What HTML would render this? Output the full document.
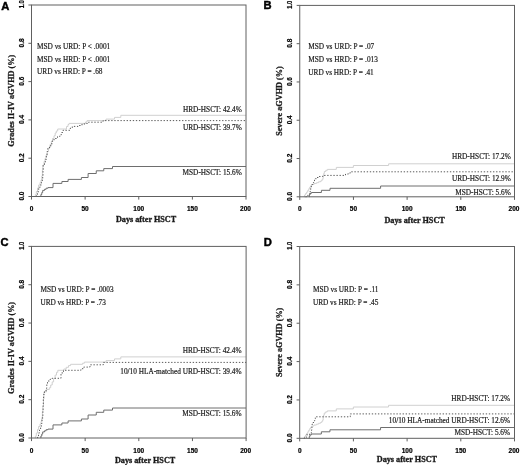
<!DOCTYPE html>
<html><head><meta charset="utf-8"><title>Figure</title>
<style>
html,body{margin:0;padding:0;background:#fff;}
body{width:520px;height:465px;overflow:hidden;}
svg{display:block;will-change:transform;}
text{fill:#1a1a1a;}
.tx{font-family:"Liberation Serif",serif;font-size:7.3px;stroke:#1a1a1a;stroke-width:0.18px;}
.ax{font-family:"Liberation Serif",serif;font-size:8.2px;font-weight:bold;stroke:#1a1a1a;stroke-width:0.3px;}
.tk{fill:#000;font-family:"Liberation Sans",sans-serif;font-size:6.5px;font-weight:bold;stroke:#000;stroke-width:0.2px;}
.lt{font-family:"Liberation Sans",sans-serif;font-size:11.2px;font-weight:bold;fill:#000;stroke:#000;stroke-width:0.45px;}
</style></head><body>
<svg width="520" height="465" viewBox="0 0 520 465">
<rect width="520" height="465" fill="#fff"/>
<path d="M35.00,196.50H35.40V194.60H36.30V191.50H37.50V188.00H38.60V185.00H40.00V182.50H41.00V180.00H41.80V176.00H42.40V170.00H42.90V165.00H44.00V161.50H45.00V158.50H46.10V155.40H47.20V151.50H48.50V148.00H50.00V144.50H51.30V141.50H52.50V138.50H54.00V135.80H55.20V133.00H56.30V131.00H57.70V129.00H66.50V126.50H68.00V124.50H69.00V123.40H85.50V122.00H87.00V120.60H106.00V119.10H114.50V117.40H120.80V115.30H246.00V115.30" fill="none" stroke="#d0d0d0" stroke-width="1"/>
<path d="M36.20,196.50H36.50V194.60H37.50V192.50H38.20V190.50H38.70V187.60H40.00V185.00H41.50V182.30H42.30V178.50H42.70V175.50H43.00V170.00H43.20V165.00H44.50V162.00H45.50V159.50H46.30V155.00H47.00V151.50H47.60V148.70H49.50V146.30H50.75V144.40H51.80V141.20H53.50V139.70H55.00V138.50H57.50V136.50H59.90V134.70H61.50V132.50H63.10V130.30H70.00V128.30H72.30V126.40H78.00V125.50H82.00V124.00H85.00V123.40H88.50V122.20H103.00V120.60H246.00V120.60" fill="none" stroke="#5a5a5a" stroke-width="1" stroke-dasharray="1.35 1.73"/>
<path d="M40.75,196.50H40.90V194.50H41.80V192.50H42.70V190.40H44.50V189.30H46.10V188.20H48.00V187.60H53.00V183.40H61.90V181.50H68.10V179.40H81.40V177.50H88.10V173.50H96.25V170.80H103.75V168.60H112.50V166.50H246.00V166.50" fill="none" stroke="#6e6e6e" stroke-width="1"/>
<rect x="31.5" y="5.0" width="214.5" height="191.5" fill="none" stroke="#606060" stroke-width="1"/>
<path d="M28.4,196.50H31.5 M28.4,158.20H31.5 M28.4,119.90H31.5 M28.4,81.60H31.5 M28.4,43.30H31.5 M28.4,5.00H31.5 M31.50,196.5V199.6 M85.12,196.5V199.6 M138.75,196.5V199.6 M192.38,196.5V199.6 M246.00,196.5V199.6" stroke="#606060" stroke-width="1" fill="none"/>
<text transform="translate(24.10,196.10) rotate(-90)" text-anchor="middle" class="tk">0.0</text>
<text transform="translate(24.10,157.80) rotate(-90)" text-anchor="middle" class="tk">0.2</text>
<text transform="translate(24.10,119.50) rotate(-90)" text-anchor="middle" class="tk">0.4</text>
<text transform="translate(24.10,81.20) rotate(-90)" text-anchor="middle" class="tk">0.6</text>
<text transform="translate(24.10,42.90) rotate(-90)" text-anchor="middle" class="tk">0.8</text>
<text transform="translate(24.10,4.30) rotate(-90)" text-anchor="middle" class="tk" textLength="8.1" lengthAdjust="spacingAndGlyphs">1.0</text>
<text x="31.50" y="210.80" text-anchor="middle" class="tk">0</text>
<text x="85.12" y="210.80" text-anchor="middle" class="tk">50</text>
<text x="138.75" y="210.80" text-anchor="middle" class="tk">100</text>
<text x="192.38" y="210.80" text-anchor="middle" class="tk">150</text>
<text x="245.50" y="210.80" text-anchor="middle" class="tk">200</text>
<text x="146.05" y="222.05" text-anchor="middle" class="ax">Days after HSCT</text>
<text transform="translate(13.80,100.75) rotate(-90)" text-anchor="middle" class="ax">Grades II-IV aGVHD (%)</text>
<text x="1.20" y="9.60" class="lt">A</text>
<text x="37.00" y="48.70" class="tx">MSD vs URD: P &lt; .0001</text>
<text x="37.00" y="61.50" class="tx">MSD vs HRD: P &lt; .0001</text>
<text x="37.00" y="74.10" class="tx">URD vs HRD: P = .68</text>
<text x="241.80" y="111.50" text-anchor="end" class="tx">HRD-HSCT: 42.4%</text>
<text x="241.80" y="130.20" text-anchor="end" class="tx">URD-HSCT: 39.7%</text>
<text x="241.80" y="174.80" text-anchor="end" class="tx">MSD-HSCT: 15.6%</text>
<path d="M303.80,196.80H304.50V195.00H305.60V193.50H306.70V192.00H307.80V190.30H308.80V188.70H309.80V187.00H310.80V185.60H311.80V184.50H314.00V183.50H316.50V182.70H318.50V181.80H320.50V181.00H321.80V179.80H322.80V178.50H323.20V176.00H323.70V173.50H324.30V171.50H325.80V170.30H327.40V169.40H336.30V167.40H353.40V165.50H388.60V163.80H514.50V163.80" fill="none" stroke="#d0d0d0" stroke-width="1"/>
<path d="M305.50,196.80H306.50V195.80H308.00V194.70H309.50V193.60H310.20V191.00H310.70V188.00H311.30V186.00H311.80V184.50H312.70V182.70H313.60V181.00H314.50V179.80H315.30V178.70H317.00V177.50H318.80V176.50H322.80V175.40H345.50V174.00H348.50V173.00H350.50V171.80H514.50V171.80" fill="none" stroke="#5a5a5a" stroke-width="1" stroke-dasharray="1.35 1.73"/>
<path d="M309.00,196.80H309.30V195.00H310.00V193.50H311.30V192.50H321.40V190.30H330.00V188.30H380.60V186.00H514.50V186.00" fill="none" stroke="#6e6e6e" stroke-width="1"/>
<rect x="299.75" y="5.4" width="214.75" height="191.4" fill="none" stroke="#606060" stroke-width="1"/>
<path d="M296.65,196.80H299.75 M296.65,158.52H299.75 M296.65,120.24H299.75 M296.65,81.96H299.75 M296.65,43.68H299.75 M296.65,5.40H299.75 M299.75,196.8V199.9 M353.44,196.8V199.9 M407.12,196.8V199.9 M460.81,196.8V199.9 M514.50,196.8V199.9" stroke="#606060" stroke-width="1" fill="none"/>
<text transform="translate(292.35,196.40) rotate(-90)" text-anchor="middle" class="tk">0.0</text>
<text transform="translate(292.35,158.12) rotate(-90)" text-anchor="middle" class="tk">0.2</text>
<text transform="translate(292.35,119.84) rotate(-90)" text-anchor="middle" class="tk">0.4</text>
<text transform="translate(292.35,81.56) rotate(-90)" text-anchor="middle" class="tk">0.6</text>
<text transform="translate(292.35,43.28) rotate(-90)" text-anchor="middle" class="tk">0.8</text>
<text transform="translate(292.35,4.70) rotate(-90)" text-anchor="middle" class="tk" textLength="8.1" lengthAdjust="spacingAndGlyphs">1.0</text>
<text x="299.75" y="211.20" text-anchor="middle" class="tk">0</text>
<text x="353.44" y="211.20" text-anchor="middle" class="tk">50</text>
<text x="407.12" y="211.20" text-anchor="middle" class="tk">100</text>
<text x="460.81" y="211.20" text-anchor="middle" class="tk">150</text>
<text x="514.00" y="211.20" text-anchor="middle" class="tk">200</text>
<text x="414.62" y="222.75" text-anchor="middle" class="ax">Days after HSCT</text>
<text transform="translate(282.05,101.10) rotate(-90)" text-anchor="middle" class="ax">Severe aGVHD (%)</text>
<text x="263.60" y="9.30" class="lt">B</text>
<text x="308.30" y="48.70" class="tx">MSD vs URD: P = .07</text>
<text x="308.30" y="61.70" class="tx">MSD vs HRD: P = .013</text>
<text x="308.30" y="74.70" class="tx">URD vs HRD: P = .41</text>
<text x="510.80" y="159.40" text-anchor="end" class="tx">HRD-HSCT: 17.2%</text>
<text x="510.80" y="181.00" text-anchor="end" class="tx">URD-HSCT: 12.9%</text>
<text x="510.80" y="194.90" text-anchor="end" class="tx">MSD-HSCT: 5.6%</text>
<path d="M35.00,438.00H35.40V436.10H36.30V433.00H37.50V429.50H38.60V426.50H40.00V424.00H41.00V421.50H41.80V417.50H42.40V411.50H42.90V406.50H43.50V399.00H43.90V391.80H46.50V389.50H49.30V387.70H50.70V385.00H52.20V381.90H53.60V378.50H55.10V375.10H56.50V372.30H57.80V370.30H63.80V369.00H66.20V367.30H68.50V365.60H70.60V364.30H82.60V363.20H84.40V362.10H106.00V360.60H114.50V358.90H120.80V356.90H246.10V356.90" fill="none" stroke="#d0d0d0" stroke-width="1"/>
<path d="M37.30,438.00H37.60V436.00H38.50V433.00H39.50V430.00H40.60V427.40H41.30V423.50H42.00V419.50H42.60V415.80H42.90V410.00H43.10V404.00H43.30V398.40H43.60V394.50H44.50V391.50H46.00V388.30H46.80V384.50H47.50V381.00H50.00V379.30H52.10V378.30H61.00V374.00H62.20V372.00H63.50V370.30H81.00V368.70H83.70V367.10H90.00V364.80H103.30V362.40H246.10V362.40" fill="none" stroke="#5a5a5a" stroke-width="1" stroke-dasharray="1.35 1.73"/>
<path d="M40.75,438.00H40.90V436.00H41.80V434.00H42.70V431.90H44.50V430.80H46.10V429.70H48.00V429.10H53.00V424.90H61.90V423.00H68.10V420.90H81.40V419.00H88.10V415.00H96.25V412.30H103.75V410.10H112.50V408.00H246.00V408.00" fill="none" stroke="#6e6e6e" stroke-width="1"/>
<rect x="31.5" y="246.4" width="214.6" height="191.6" fill="none" stroke="#606060" stroke-width="1"/>
<path d="M28.4,438.00H31.5 M28.4,399.68H31.5 M28.4,361.36H31.5 M28.4,323.04H31.5 M28.4,284.72H31.5 M28.4,246.40H31.5 M31.50,438.0V441.1 M85.15,438.0V441.1 M138.80,438.0V441.1 M192.45,438.0V441.1 M246.10,438.0V441.1" stroke="#606060" stroke-width="1" fill="none"/>
<text transform="translate(24.10,437.60) rotate(-90)" text-anchor="middle" class="tk">0.0</text>
<text transform="translate(24.10,399.28) rotate(-90)" text-anchor="middle" class="tk">0.2</text>
<text transform="translate(24.10,360.96) rotate(-90)" text-anchor="middle" class="tk">0.4</text>
<text transform="translate(24.10,322.64) rotate(-90)" text-anchor="middle" class="tk">0.6</text>
<text transform="translate(24.10,284.32) rotate(-90)" text-anchor="middle" class="tk">0.8</text>
<text transform="translate(24.10,245.70) rotate(-90)" text-anchor="middle" class="tk" textLength="8.1" lengthAdjust="spacingAndGlyphs">1.0</text>
<text x="31.50" y="452.50" text-anchor="middle" class="tk">0</text>
<text x="85.15" y="452.50" text-anchor="middle" class="tk">50</text>
<text x="138.80" y="452.50" text-anchor="middle" class="tk">100</text>
<text x="192.45" y="452.50" text-anchor="middle" class="tk">150</text>
<text x="245.60" y="452.50" text-anchor="middle" class="tk">200</text>
<text x="145.10" y="462.60" text-anchor="middle" class="ax">Days after HSCT</text>
<text transform="translate(13.80,347.90) rotate(-90)" text-anchor="middle" class="ax">Grades II-IV aGVHD (%)</text>
<text x="0.50" y="246.00" class="lt">C</text>
<text x="40.40" y="292.20" class="tx">MSD vs URD: P = .0003</text>
<text x="40.40" y="305.20" class="tx">URD vs HRD: P = .73</text>
<text x="241.50" y="353.10" text-anchor="end" class="tx">HRD-HSCT: 42.4%</text>
<text x="241.50" y="374.40" text-anchor="end" class="tx">10/10 HLA-matched URD-HSCT: 39.4%</text>
<text x="241.50" y="416.20" text-anchor="end" class="tx">MSD-HSCT: 15.6%</text>
<path d="M303.75,438.30H304.45V436.50H305.55V435.00H306.65V433.50H307.75V431.80H308.75V430.20H309.75V428.50H310.75V427.10H311.75V426.00H313.95V425.00H316.45V424.20H318.45V423.30H320.45V422.50H321.75V421.30H322.75V420.00H323.15V417.50H323.65V415.00H324.25V413.00H325.75V411.80H327.35V410.90H336.25V408.90H353.35V407.00H388.55V405.30H514.45V405.30" fill="none" stroke="#d0d0d0" stroke-width="1"/>
<path d="M303.80,438.30H304.50V437.30H306.60V434.80H309.50V434.00H311.30V432.30H311.60V430.00H311.80V427.50H312.10V424.20H313.00V422.50H314.10V420.80H314.70V418.70H315.30V416.80H350.30V413.90H514.50V413.90" fill="none" stroke="#5a5a5a" stroke-width="1" stroke-dasharray="1.35 1.73"/>
<path d="M308.95,438.30H309.25V436.50H309.95V435.00H311.25V434.00H321.35V431.80H329.95V429.80H380.55V427.50H514.45V427.50" fill="none" stroke="#6e6e6e" stroke-width="1"/>
<rect x="299.7" y="246.5" width="214.8" height="191.8" fill="none" stroke="#606060" stroke-width="1"/>
<path d="M296.59999999999997,438.30H299.7 M296.59999999999997,399.94H299.7 M296.59999999999997,361.58H299.7 M296.59999999999997,323.22H299.7 M296.59999999999997,284.86H299.7 M296.59999999999997,246.50H299.7 M299.70,438.3V441.40000000000003 M353.40,438.3V441.40000000000003 M407.10,438.3V441.40000000000003 M460.80,438.3V441.40000000000003 M514.50,438.3V441.40000000000003" stroke="#606060" stroke-width="1" fill="none"/>
<text transform="translate(292.30,437.90) rotate(-90)" text-anchor="middle" class="tk">0.0</text>
<text transform="translate(292.30,399.54) rotate(-90)" text-anchor="middle" class="tk">0.2</text>
<text transform="translate(292.30,361.18) rotate(-90)" text-anchor="middle" class="tk">0.4</text>
<text transform="translate(292.30,322.82) rotate(-90)" text-anchor="middle" class="tk">0.6</text>
<text transform="translate(292.30,284.46) rotate(-90)" text-anchor="middle" class="tk">0.8</text>
<text transform="translate(292.30,245.80) rotate(-90)" text-anchor="middle" class="tk" textLength="8.1" lengthAdjust="spacingAndGlyphs">1.0</text>
<text x="299.70" y="452.90" text-anchor="middle" class="tk">0</text>
<text x="353.40" y="452.90" text-anchor="middle" class="tk">50</text>
<text x="407.10" y="452.90" text-anchor="middle" class="tk">100</text>
<text x="460.80" y="452.90" text-anchor="middle" class="tk">150</text>
<text x="514.00" y="452.90" text-anchor="middle" class="tk">200</text>
<text x="406.90" y="461.95" text-anchor="middle" class="ax">Days after HSCT</text>
<text transform="translate(282.00,342.40) rotate(-90)" text-anchor="middle" class="ax">Severe aGVHD (%)</text>
<text x="263.70" y="245.90" class="lt">D</text>
<text x="312.90" y="291.70" class="tx">MSD vs URD: P = .11</text>
<text x="312.90" y="304.70" class="tx">URD vs HRD: P = .45</text>
<text x="510.10" y="400.50" text-anchor="end" class="tx">HRD-HSCT: 17.2%</text>
<text x="510.10" y="422.60" text-anchor="end" class="tx">10/10 HLA-matched URD-HSCT: 12.6%</text>
<text x="510.10" y="435.00" text-anchor="end" class="tx">MSD-HSCT: 5.6%</text>
</svg>
</body></html>
